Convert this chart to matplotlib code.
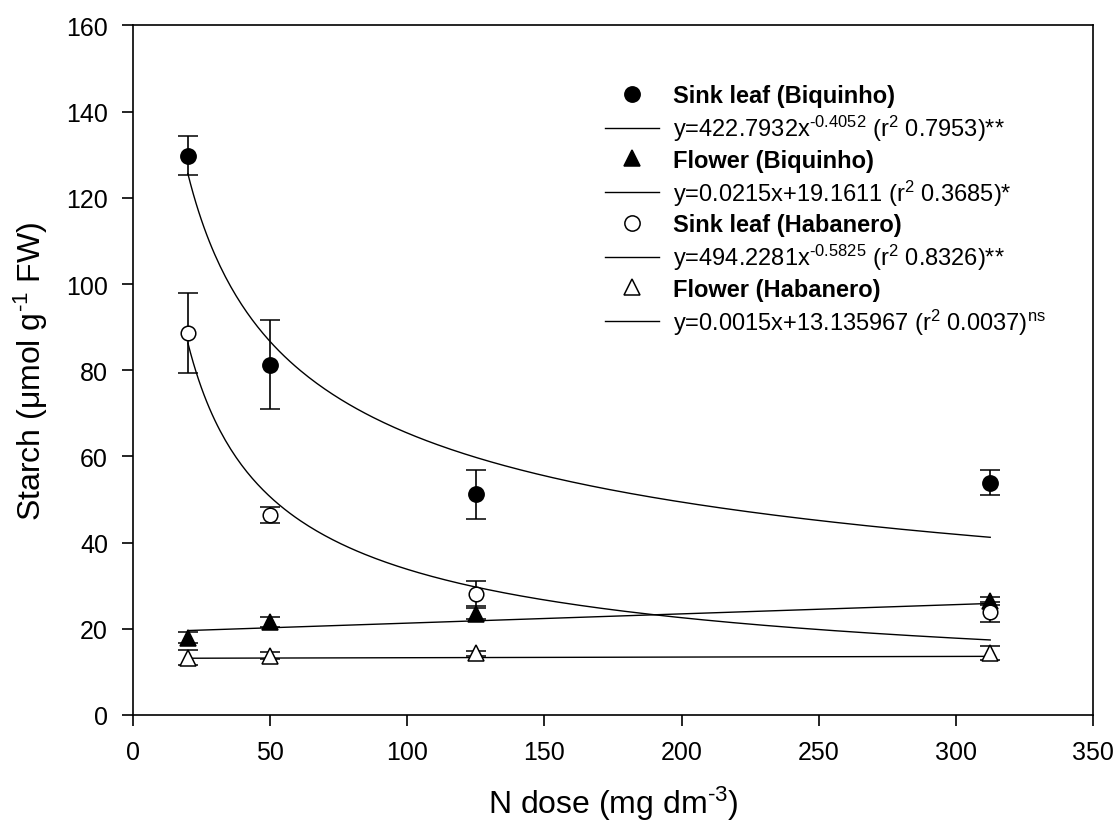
import matplotlib
matplotlib.use('Agg')
import matplotlib.pyplot as plt
import numpy as np
from matplotlib.lines import Line2D

plt.rcParams['font.family'] = ['Liberation Sans', 'DejaVu Sans']
plt.rcParams['mathtext.fontset'] = 'custom'
plt.rcParams['mathtext.rm'] = 'Liberation Sans'
plt.rcParams['mathtext.it'] = 'Liberation Sans:italic'
plt.rcParams['mathtext.bf'] = 'Liberation Sans:bold'

# N dose (mg dm-3)
n_dose = [20, 50, 125, 312.5]

# Starch means and errors
sink_biq = [129.8, 81.3, 51.2, 53.9]
sink_biq_err = [4.5, 10.3, 5.7, 2.9]
flower_biq = [17.9, 21.6, 23.5, 26.5]
flower_biq_err = [1.3, 1.2, 1.3, 0.9]
sink_hab = [88.6, 46.4, 28.1, 23.9]
sink_hab_err = [9.3, 1.9, 2.9, 2.3]
flower_hab = [13.3, 13.8, 14.3, 14.3]
flower_hab_err = [1.8, 0.9, 0.6, 1.6]

# fitted equations from the legend
power_biq = (422.7932, -0.4052)
linear_biq = (0.0215, 19.1611)
power_hab = (494.2281, -0.5825)
linear_hab = (0.0015, 13.135967)

HY = '\u2010'  # short hyphen used in superscripts
labels = ['Sink leaf (Biquinho)',
          'y=422.7932x$^{' + HY + '0.4052}$ (r$^2$ 0.7953)**',
          'Flower (Biquinho)',
          'y=0.0215x+19.1611 (r$^2$ 0.3685)*',
          'Sink leaf (Habanero)',
          'y=494.2281x$^{' + HY + '0.5825}$ (r$^2$ 0.8326)**',
          'Flower (Habanero)',
          'y=0.0015x+13.135967 (r$^2$ 0.0037)$^{\\rm ns}$']

fig = plt.figure(figsize=(11.18, 8.28), dpi=100)
ax = fig.add_axes([0.119, 0.1353, 0.8587, 0.8327])

xf = np.linspace(n_dose[0], n_dose[-1], 300)
lw = 1.0
ax.plot(xf, power_biq[0] * xf ** power_biq[1], color='black', lw=lw, zorder=2)
ax.plot(xf, linear_biq[0] * xf + linear_biq[1], color='black', lw=lw, zorder=2)
ax.plot(xf, power_hab[0] * xf ** power_hab[1], color='black', lw=lw, zorder=2)
ax.plot(xf, linear_hab[0] * xf + linear_hab[1], color='black', lw=lw, zorder=2)

series = [
    (sink_biq, sink_biq_err, 'o', 'black', 11),
    (flower_biq, flower_biq_err, '^', 'black', 12),
    (sink_hab, sink_hab_err, 'o', 'white', 10.5),
    (flower_hab, flower_hab_err, '^', 'white', 12),
]
for vals, errs, mk, fc, ms in series:
    ax.errorbar(n_dose, vals, yerr=errs, fmt=mk, mfc=fc, mec='black', mew=1.1,
                ms=ms, ecolor='black', elinewidth=1.2, capsize=7, capthick=1.2,
                zorder=3)

ax.set_xlim(0, 350)
ax.set_ylim(0, 160)
ax.set_xticks(np.arange(0, 351, 50))
ax.set_yticks(np.arange(0, 161, 20))
for sp in ax.spines.values():
    sp.set_linewidth(1.2)
ax.tick_params(axis='both', direction='out', length=8, width=1.2, labelsize=18, pad=10,
               top=False, right=False)

ax.set_xlabel('N dose (mg dm$^{' + HY + '3}$)', fontsize=23, labelpad=14)
ax.set_ylabel('Starch (\u03bcmol g$^{' + HY + '1}$ FW)', fontsize=23, labelpad=12)

# legend
handles = []
for mk, fc in [('o', 'black'), ('^', 'black'), ('o', 'white'), ('^', 'white')]:
    handles.append(Line2D([], [], ls='none', marker=mk, mfc=fc, mec='black', mew=1.1, ms=11))
    handles.append(Line2D([], [], color='black', lw=lw))
leg = ax.legend(handles, labels, loc='upper left', bbox_to_anchor=(0.492, 0.915),
                frameon=False, fontsize=17, handlelength=2.25, handletextpad=0.6,
                labelspacing=0.24, borderpad=0, borderaxespad=0)
for i, t in enumerate(leg.get_texts()):
    if i % 2 == 0:
        t.set_fontweight('bold')

fig.savefig('out.png', dpi=100, facecolor='white')
